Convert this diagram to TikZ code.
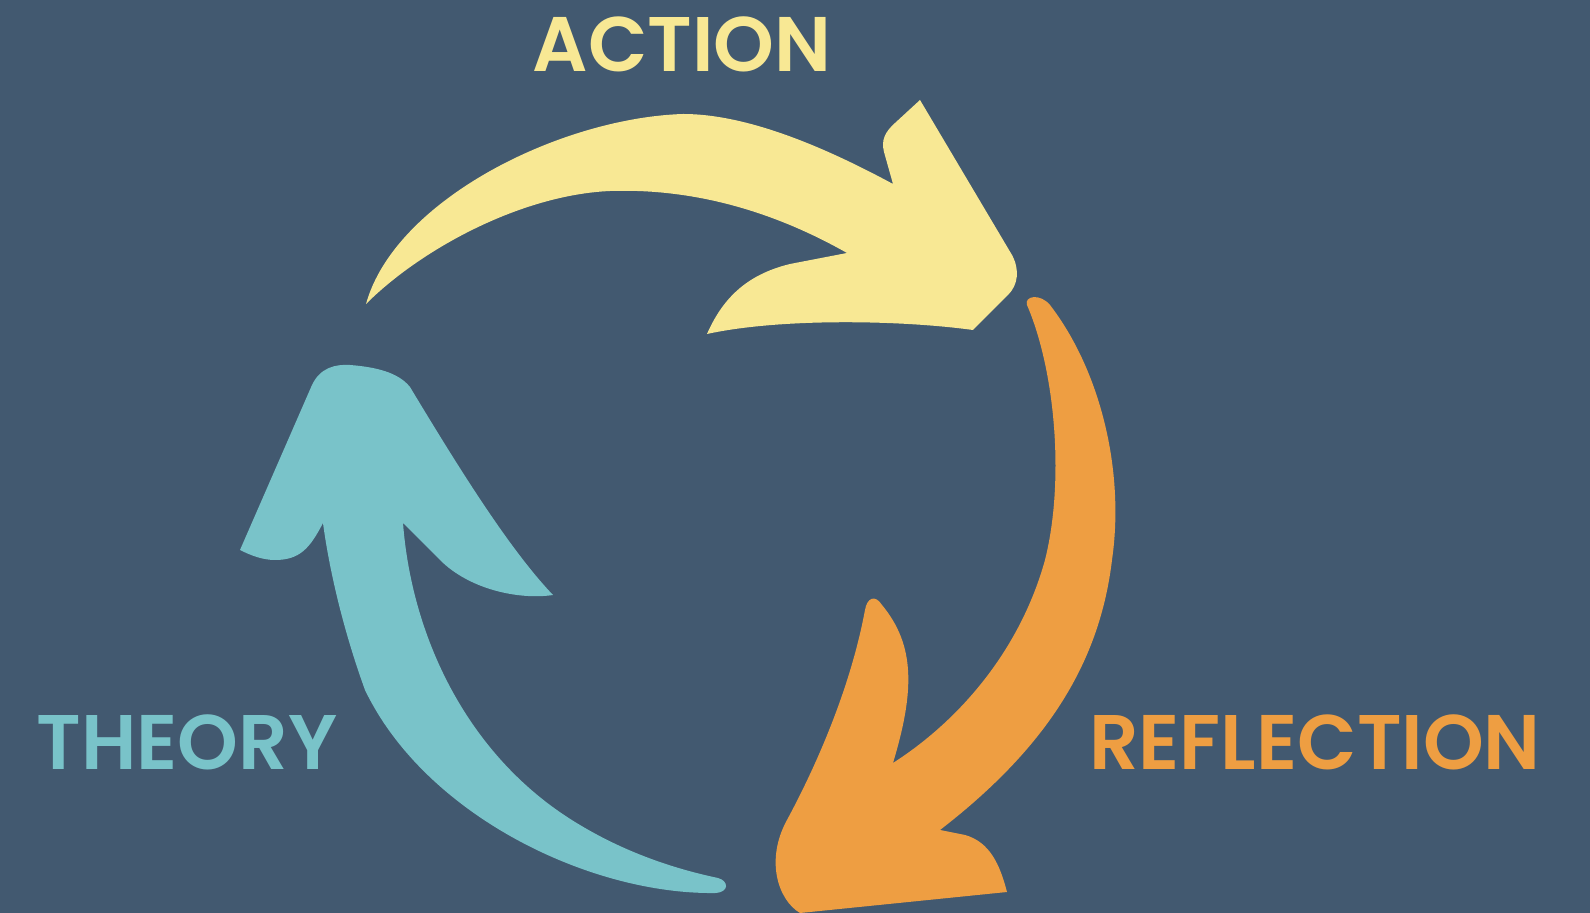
\documentclass[tikz,border=0pt]{standalone}
\usepackage{fontspec}
\setmainfont{Poppins}[UprightFont={* SemiBold}]
\definecolor{slate}{RGB}{66,89,112}
\definecolor{actionyellow}{RGB}{248,232,148}
\definecolor{reflectorange}{RGB}{238,158,66}
\definecolor{theoryteal}{RGB}{121,195,201}

\tikzset{stage label/.style={font=\fontsize{22}{26}\selectfont,anchor=base,inner sep=0pt},
action arrow/.style={fill=actionyellow},
reflection arrow/.style={fill=reflectorange},
theory arrow/.style={fill=theoryteal}}

\begin{document}
\begin{tikzpicture}[x=0.01cm,y=-0.01cm]
% one unit is one pixel of the 1590 x 913 picture, y grows downwards

%% background
\fill [slate] (0,0) rectangle (1590,913);
\useasboundingbox (0,0) rectangle (1590,913);

%% Coordinates of arrow tips and barb corners.
\coordinate (aTail) at (366,304);
\coordinate (aUp) at (893,184);
\coordinate (aTip) at (920,100);
\coordinate (aHead) at (973,330);
\coordinate (aLow) at (707,334);
\coordinate (aIn) at (847,253);
\coordinate (rTail) at (1027,305);
\coordinate (rOut) at (940,830);
\coordinate (rBarb) at (1007,892);
\coordinate (rHead) at (787,820);
\coordinate (rTip) at (882,605);
\coordinate (rIn) at (893,763);
\coordinate (tTail) at (716,893);
\coordinate (tLeft) at (323,523);
\coordinate (tBarb) at (240,550);
\coordinate (tTop) at (410,387);
\coordinate (tTip) at (553,595);
\coordinate (tIn) at (403,523);

%% action arrow
\fill [action arrow] (aTail)
  .. controls (395,200) and (560,118) .. (683,114)
  .. controls (750,114) and (830,150) .. (aUp)
  -- (884,152) .. controls (881,140) and (885,132) .. (895,123)
  -- (aTip) -- (1012,255)
  .. controls (1020,270) and (1018,285) .. (1008,295)
  -- (aHead)
  .. controls (900,320) and (780,318) .. (aLow)
  .. controls (722,300) and (745,275) .. (790,264)
  -- (aIn)
  .. controls (780,215) and (700,188) .. (610,191)
  .. controls (520,195) and (420,250) .. (aTail)
  -- cycle;

%% reflection arrow
\fill [reflection arrow] (rTail)
  .. controls (1024,296) and (1040,293) .. (1050,305)
  .. controls (1100,370) and (1125,470) .. (1112,560)
  .. controls (1100,660) and (1050,745) .. (rOut)
  -- (965,835) .. controls (990,842) and (1000,865) .. (rBarb)
  -- (800,913)
  .. controls (778,900) and (765,860) .. (rHead)
  .. controls (822,755) and (852,680) .. (865,610)
  .. controls (867,598) and (875,594) .. (rTip)
  .. controls (915,645) and (915,690) .. (rIn)
  .. controls (960,720) and (1020,650) .. (1045,560)
  .. controls (1065,480) and (1055,370) .. (rTail)
  -- cycle;

%% theory arrow
\fill [theory arrow] (tTail)
  .. controls (590,895) and (425,815) .. (365,690)
  .. controls (345,635) and (330,575) .. (tLeft)
  .. controls (310,548) and (300,560) .. (275,560)
  .. controls (262,560) and (250,555) .. (tBarb)
  -- (312,385)
  .. controls (320,368) and (335,364) .. (350,365)
  .. controls (375,367) and (398,372) .. (tTop)
  .. controls (460,470) and (510,550) .. (tTip)
  .. controls (520,600) and (470,590) .. (440,560)
  -- (tIn)
  .. controls (412,640) and (470,760) .. (580,825)
  .. controls (630,855) and (680,870) .. (718,878)
  .. controls (729,881) and (729,892) .. (tTail)
  -- cycle;

%% stage labels
\node [stage label,text=actionyellow] (action) at (682,72) {ACTION};
\node [stage label,text=theoryteal] (theory) at (187,770) {THEORY};
\node [stage label,text=reflectorange] (reflection) at (1315,770) {REFLECTION};

\end{tikzpicture}
\end{document}
